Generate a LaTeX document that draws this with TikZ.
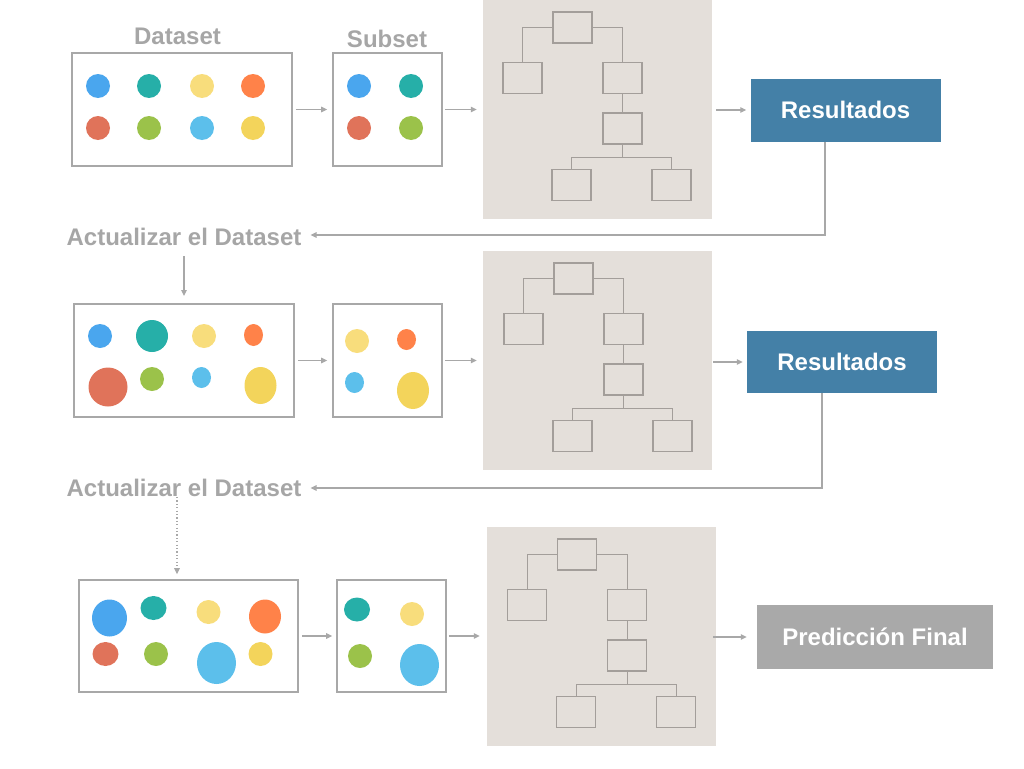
\documentclass[tikz,border=0pt]{standalone}
\usepackage{fontspec}
\setmainfont{Liberation Sans}
\usetikzlibrary{arrows.meta}
\definecolor{cblue}{HTML}{4AA6EE}
\definecolor{cteal}{HTML}{26AFA8}
\definecolor{clyellow}{HTML}{F8DD7C}
\definecolor{corange}{HTML}{FF8249}
\definecolor{cred}{HTML}{E0735A}
\definecolor{cgreen}{HTML}{9BC24A}
\definecolor{clblue}{HTML}{5CBFEB}
\definecolor{cyellow}{HTML}{F3D45B}
\definecolor{resblue}{HTML}{4480A7}
\definecolor{predgray}{HTML}{A9A9A9}
\definecolor{panelc}{HTML}{E4DFDA}
\definecolor{treec}{HTML}{A39E9A}
\definecolor{linec}{HTML}{A8A8A8}
\definecolor{labelc}{HTML}{A6A6A6}
\tikzset{
  databox/.style={draw=linec, line width=1.6pt, minimum height=113pt, inner sep=0pt},
  panelbox/.style={fill=panelc, minimum width=229pt, minimum height=219pt, inner sep=0pt},
  tbox/.style={draw=treec, line width=1.3pt, minimum width=39pt, minimum height=31pt, inner sep=0pt},
  tline/.style={draw=treec, line width=0.7pt},
  resbox/.style={fill=resblue, text=white, font=\fontsize{24}{28}\selectfont\bfseries, minimum width=190pt, minimum height=63pt, inner sep=0pt, text height=17pt, text depth=0pt},
  lbl/.style={text=labelc, font=\fontsize{24}{28}\selectfont\bfseries, inner sep=0pt, anchor=base},
  arr/.style={draw=linec, line width=1.2pt, -{Triangle[length=6pt,width=5.5pt]}},
  dotarr/.style={draw=linec, line width=1.2pt, dash pattern=on 1.2pt off 2.2pt, -{Triangle[length=6pt,width=5.5pt]}},
}
\newcommand{\decisiontree}[3]{%
  \begin{scope}[shift={(#1,#2)}]
    \node[tbox] (#3r) at (572.5,27.5) {};
    \node[tbox] (#3a) at (522.5,78) {};
    \node[tbox] (#3b) at (622.5,78) {};
    \node[tbox] (#3m) at (622.5,128.5) {};
    \node[tbox] (#3c) at (571.5,185) {};
    \node[tbox] (#3d) at (671.5,185) {};
    \draw[tline] (#3r.west) -| (#3a.north);
    \draw[tline] (#3r.east) -| (#3b.north);
    \draw[tline] (#3b.south) -- (#3m.north);
    \draw[tline] (#3m.south) -- ++(0,12.5) -| (#3c.north);
    \draw[tline] (#3m.south) ++(0,12.5) -| (#3d.north);
  \end{scope}}
\newcommand{\spot}[5]{\fill[#5] (#1,#2) ellipse [x radius=#3pt, y radius=#4pt];}
\begin{document}
\begin{tikzpicture}[x=1pt,y=-1pt]
\useasboundingbox (0,0) rectangle (1024,768);

% ---------- Row 1 ----------
\node[lbl] (dslbl) at (177.5,45) {Dataset};
\node[lbl] (sslbl) at (387,48) {Subset};
\node[databox, minimum width=220pt] (ds1) at (182,109.5) {};
\node[databox, minimum width=109pt] (ss1) at (387.5,109.5) {};
\node[panelbox] (p1) at (597.5,109.5) {};
\decisiontree{0}{0}{ta}
\node[resbox] (res1) at (845.5,110) {Resultados};
\spot{98}{86}{12}{12}{cblue}
\spot{149}{86}{12}{12}{cteal}
\spot{202}{86}{12}{12}{clyellow}
\spot{253}{86}{12}{12}{corange}
\spot{98}{128}{12}{12}{cred}
\spot{149}{128}{12}{12}{cgreen}
\spot{202}{128}{12}{12}{clblue}
\spot{253}{128}{12}{12}{cyellow}
\spot{359}{86}{12}{12}{cblue}
\spot{411}{86}{12}{12}{cteal}
\spot{359}{128}{12}{12}{cred}
\spot{411}{128}{12}{12}{cgreen}
\draw[arr, shorten <=3pt, shorten >=5pt] (ds1.east) -- (ss1.west);
\draw[arr, shorten <=2pt, shorten >=6pt] (ss1.east) -- (ss1.east -| p1.west);
\draw[arr, shorten <=4pt, shorten >=4pt] (p1.east |- res1.west) -- (res1.west);

% feedback 1
\node[lbl] (act1) at (184,245) {Actualizar el Dataset};
\coordinate (fb1) at (825,235);
\draw[arr, shorten >=9pt] (res1.south -| fb1) -- (fb1) -- (fb1 -| act1.east);
\draw[arr, shorten <=11pt, shorten >=8pt] (act1.south) -- (act1.south |- 0,304);

% ---------- Row 2 ----------
\node[databox, minimum width=220pt] (ds2) at (184,360.5) {};
\node[databox, minimum width=109pt] (ss2) at (387.5,360.5) {};
\node[panelbox] (p2) at (597.5,360.5) {};
\decisiontree{1}{251}{tb}
\node[resbox, minimum height=62pt] (res2) at (842,362) {Resultados};
\spot{100}{336}{12}{12}{cblue}
\spot{152}{336}{16}{16}{cteal}
\spot{204}{336}{12}{12}{clyellow}
\spot{253.5}{335}{9.5}{11}{corange}
\spot{108}{387}{19.5}{19.5}{cred}
\spot{152}{379}{12}{12}{cgreen}
\spot{201.5}{377.5}{9.5}{10.5}{clblue}
\spot{260.5}{385.5}{16}{18.5}{cyellow}
\spot{357}{341}{12}{12}{clyellow}
\spot{406.5}{339.5}{9.5}{10.5}{corange}
\spot{354.5}{382.5}{9.5}{10.5}{clblue}
\spot{413}{390.5}{16}{18.5}{cyellow}
\draw[arr, shorten <=3pt, shorten >=5pt] (ds2.east) -- (ss2.west);
\draw[arr, shorten <=2pt, shorten >=6pt] (ss2.east) -- (ss2.east -| p2.west);
\draw[arr, shorten <=1pt, shorten >=4pt] (p2.east |- res2.west) -- (res2.west);

% feedback 2
\node[lbl] (act2) at (184,496) {Actualizar el Dataset};
\coordinate (fb2) at (822,488);
\draw[arr, shorten >=9pt] (res2.south -| fb2) -- (fb2) -- (fb2 -| act2.east);
\coordinate (d2) at (177,497);

% ---------- Row 3 ----------
\node[databox, minimum width=219pt, minimum height=112pt] (ds3) at (188.5,636) {};
\node[databox, minimum width=109pt, minimum height=112pt] (ss3) at (391.5,636) {};
\node[panelbox] (p3) at (601.5,636.5) {};
\decisiontree{4.5}{527}{tc}
\node[resbox, fill=predgray, minimum width=236pt, minimum height=64pt] (pred) at (875,637) {Predicción Final};
\draw[dotarr, shorten >=5pt] (d2) -- (d2 |- ds3.north);
\spot{109.5}{618}{17.5}{18.5}{cblue}
\spot{153.5}{608}{13}{12}{cteal}
\spot{208.5}{612}{12}{12}{clyellow}
\spot{265}{616.5}{16}{17}{corange}
\spot{105.5}{654}{13}{12}{cred}
\spot{156}{654}{12}{12}{cgreen}
\spot{216.5}{663}{19.5}{21}{clblue}
\spot{260.5}{654}{12}{12}{cyellow}
\spot{357}{609.5}{13}{12}{cteal}
\spot{412}{614}{12}{12}{clyellow}
\spot{360}{656}{12}{12}{cgreen}
\spot{419.5}{665}{19.5}{21}{clblue}
\draw[arr, shorten <=3pt, shorten >=4pt] (ds3.east) -- (ss3.west);
\draw[arr, shorten <=2pt, shorten >=7pt] (ss3.east) -- (ss3.east -| p3.west);
\draw[arr, shorten <=-3pt, shorten >=10pt] (p3.east |- pred.west) -- (pred.west);
\end{tikzpicture}
\end{document}
